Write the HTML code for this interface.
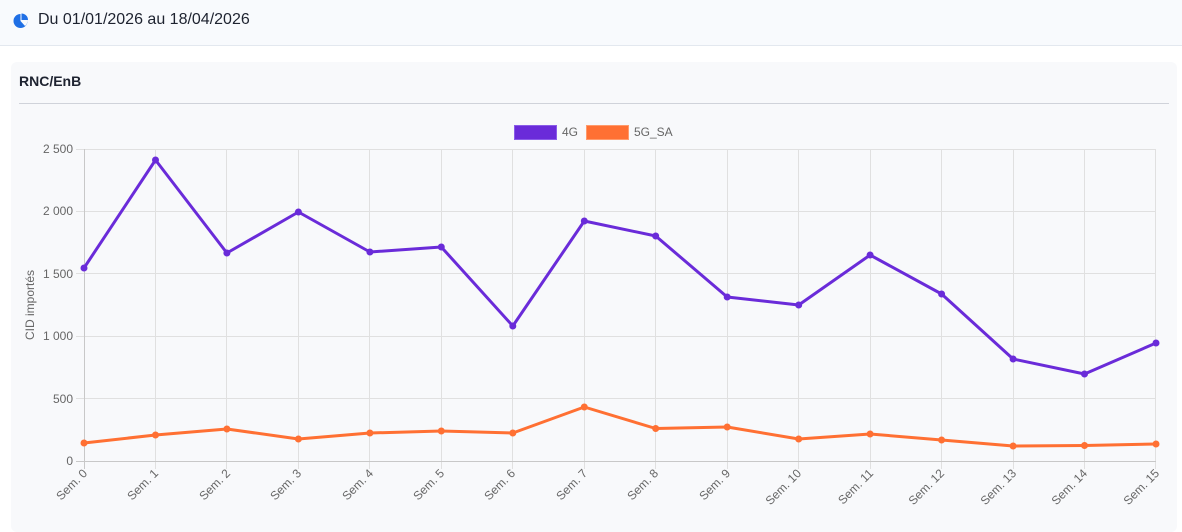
<!DOCTYPE html>
<html><head><meta charset="utf-8"><style>
body{margin:0;width:1182px;height:528px;background:#fff;font-family:"Liberation Sans",sans-serif;overflow:hidden;position:relative}
.hdr{position:absolute;left:0;top:0;width:1182px;height:45px;background:#f8fafd;border-bottom:1px solid #e3e8ef}
.hdr span{position:absolute;left:38px;top:11px;font-size:16px;color:#1e2330}
.card{position:absolute;left:11px;top:62px;width:1166px;height:470px;background:#f8f9fb;border-radius:6px}
.title{position:absolute;left:19px;top:73px;font-size:14px;font-weight:bold;color:#1e2330}
.div{position:absolute;left:19px;top:103px;width:1150px;height:1px;background:#d0d3da}
svg{position:absolute;left:0;top:0}
</style></head><body>
<div class="hdr"><svg width="20" height="20" style="left:12px;top:12px"><circle cx="8.5" cy="9" r="7" fill="#1f6fe5"/><path d="M8.5 9 L8.5 2 A7 7 0 0 1 15.5 9 Z" fill="#f8fafd"/><path d="M9.5 8 L9.5 1.5 A6.5 6.5 0 0 1 16 8 Z" fill="#1f6fe5"/><path d="M8.5 9 L15.5 9 A7 7 0 0 1 13 14 Z" fill="#f8fafd"/></svg><span>Du 01/01/2026 au 18/04/2026</span></div>
<div class="card"></div>
<div class="title">RNC/EnB</div>
<div class="div"></div>
<svg width="1182" height="528" font-family="Liberation Sans, sans-serif" font-size="12" fill="#666">
<g stroke="#e0e0e0" stroke-width="1">
<line x1="76" y1="149.5" x2="1156" y2="149.5"/><line x1="76" y1="211.5" x2="1156" y2="211.5"/><line x1="76" y1="273.5" x2="1156" y2="273.5"/><line x1="76" y1="336.5" x2="1156" y2="336.5"/><line x1="76" y1="398.5" x2="1156" y2="398.5"/>
<line x1="84.5" y1="149" x2="84.5" y2="469"/><line x1="155.5" y1="149" x2="155.5" y2="469"/><line x1="226.5" y1="149" x2="226.5" y2="469"/><line x1="298.5" y1="149" x2="298.5" y2="469"/><line x1="369.5" y1="149" x2="369.5" y2="469"/><line x1="441.5" y1="149" x2="441.5" y2="469"/><line x1="512.5" y1="149" x2="512.5" y2="469"/><line x1="584.5" y1="149" x2="584.5" y2="469"/><line x1="655.5" y1="149" x2="655.5" y2="469"/><line x1="727.5" y1="149" x2="727.5" y2="469"/><line x1="798.5" y1="149" x2="798.5" y2="469"/><line x1="870.5" y1="149" x2="870.5" y2="469"/><line x1="941.5" y1="149" x2="941.5" y2="469"/><line x1="1013.5" y1="149" x2="1013.5" y2="469"/><line x1="1084.5" y1="149" x2="1084.5" y2="469"/><line x1="1155.5" y1="149" x2="1155.5" y2="469"/>
</g>
<line x1="76" y1="461.5" x2="1156" y2="461.5" stroke="#c8c8c8"/>
<line x1="84.5" y1="149" x2="84.5" y2="469" stroke="#c8c8c8"/>
<g text-anchor="end"><text x="73" y="153">2 500</text><text x="73" y="215">2 000</text><text x="73" y="278">1 500</text><text x="73" y="340">1 000</text><text x="73" y="403">500</text><text x="73" y="465">0</text></g>
<text transform="translate(34,305) rotate(-90)" text-anchor="middle">CID importés</text>
<g text-anchor="end">
<text transform="translate(88,474) rotate(-45)">Sem. 0</text><text transform="translate(159,474) rotate(-45)">Sem. 1</text><text transform="translate(231,474) rotate(-45)">Sem. 2</text><text transform="translate(302,474) rotate(-45)">Sem. 3</text><text transform="translate(374,474) rotate(-45)">Sem. 4</text><text transform="translate(445,474) rotate(-45)">Sem. 5</text><text transform="translate(516,474) rotate(-45)">Sem. 6</text><text transform="translate(588,474) rotate(-45)">Sem. 7</text><text transform="translate(659,474) rotate(-45)">Sem. 8</text><text transform="translate(731,474) rotate(-45)">Sem. 9</text><text transform="translate(802,474) rotate(-45)">Sem. 10</text><text transform="translate(874,474) rotate(-45)">Sem. 11</text><text transform="translate(945,474) rotate(-45)">Sem. 12</text><text transform="translate(1017,474) rotate(-45)">Sem. 13</text><text transform="translate(1088,474) rotate(-45)">Sem. 14</text><text transform="translate(1160,474) rotate(-45)">Sem. 15</text>
</g>
<rect x="514.5" y="125.5" width="42" height="14" fill="#6a2bd9" stroke="#8a5ce8"/><text x="562" y="136">4G</text>
<rect x="586.5" y="125.5" width="42" height="14" fill="#ff7033" stroke="#ff9a6b"/><text x="634" y="136">5G_SA</text>
<polyline fill="none" stroke="#6a2bd9" stroke-width="3" stroke-linejoin="round" points="84,268 155.5,160 226.9,253 298.4,212 369.9,252 441.3,247 512.8,326 584.3,221 655.7,236 727.2,297 798.7,305 870.1,255 941.6,294 1013.1,359 1084.5,374 1156,343"/>
<g fill="#6a2bd9"><circle cx="84" cy="268" r="3.5"/><circle cx="155.5" cy="160" r="3.5"/><circle cx="226.9" cy="253" r="3.5"/><circle cx="298.4" cy="212" r="3.5"/><circle cx="369.9" cy="252" r="3.5"/><circle cx="441.3" cy="247" r="3.5"/><circle cx="512.8" cy="326" r="3.5"/><circle cx="584.3" cy="221" r="3.5"/><circle cx="655.7" cy="236" r="3.5"/><circle cx="727.2" cy="297" r="3.5"/><circle cx="798.7" cy="305" r="3.5"/><circle cx="870.1" cy="255" r="3.5"/><circle cx="941.6" cy="294" r="3.5"/><circle cx="1013.1" cy="359" r="3.5"/><circle cx="1084.5" cy="374" r="3.5"/><circle cx="1156" cy="343" r="3.5"/></g>
<polyline fill="none" stroke="#ff7033" stroke-width="3" stroke-linejoin="round" points="84,443 155.5,435 226.9,429 298.4,439 369.9,433 441.3,431 512.8,433 584.3,407 655.7,428.5 727.2,427 798.7,439 870.1,434 941.6,440 1013.1,446 1084.5,445.5 1156,444"/>
<g fill="#ff7033"><circle cx="84" cy="443" r="3.5"/><circle cx="155.5" cy="435" r="3.5"/><circle cx="226.9" cy="429" r="3.5"/><circle cx="298.4" cy="439" r="3.5"/><circle cx="369.9" cy="433" r="3.5"/><circle cx="441.3" cy="431" r="3.5"/><circle cx="512.8" cy="433" r="3.5"/><circle cx="584.3" cy="407" r="3.5"/><circle cx="655.7" cy="428.5" r="3.5"/><circle cx="727.2" cy="427" r="3.5"/><circle cx="798.7" cy="439" r="3.5"/><circle cx="870.1" cy="434" r="3.5"/><circle cx="941.6" cy="440" r="3.5"/><circle cx="1013.1" cy="446" r="3.5"/><circle cx="1084.5" cy="445.5" r="3.5"/><circle cx="1156" cy="444" r="3.5"/></g>
</svg>
</body></html>
